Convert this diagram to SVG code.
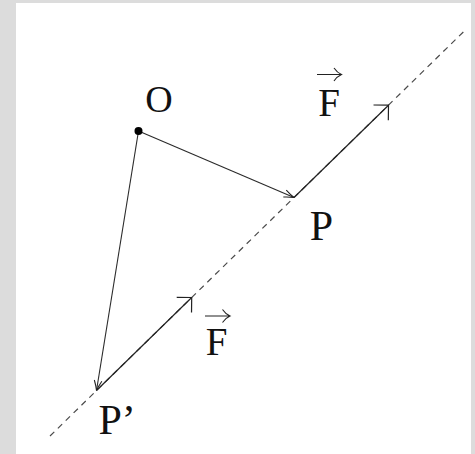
<svg xmlns="http://www.w3.org/2000/svg" width="475" height="454" viewBox="0 0 475 454">
<style>
.lbl{font-family:"Liberation Serif","Times New Roman",serif;font-size:38px;fill:#111}
.big{font-size:42px}
.mid{font-size:39px}
.ln{stroke:#2a2a2a;stroke-width:1.1;fill:none}
.dash{stroke:#4a4a4a;stroke-width:1.2;stroke-dasharray:6 5;fill:none}
.vec{stroke:#222;stroke-width:1.2;fill:none}
</style>
<defs>
<marker id="small" markerUnits="userSpaceOnUse" orient="auto" refX="0" refY="0" markerWidth="20" markerHeight="20" overflow="visible">
<path d="M-10,-3.8 Q-4,-1 0,0 Q-4,1 -10,3.8" fill="none" stroke="#222" stroke-width="1.1"/>
</marker>
<marker id="big" markerUnits="userSpaceOnUse" orient="auto" refX="0" refY="0" markerWidth="30" markerHeight="30" overflow="visible">
<path d="M-10.6,-10.6 L0,0 L-10.6,10.6" fill="none" stroke="#222" stroke-width="1.2"/>
</marker>
</defs>
<rect x="0" y="0" width="475" height="454" fill="#dcdcdc"/>
<rect x="16" y="3" width="455" height="451" fill="#ffffff"/>
<g id="connectors">
<line id="line" class="dash" x1="50" y1="436" x2="466.7" y2="28.7"/>
<line id="OP" class="ln" x1="138.5" y1="131" x2="294" y2="197.5" marker-end="url(#small)"/>
<line id="OPp" class="ln" x1="138.5" y1="131" x2="96.5" y2="390.5" marker-end="url(#small)"/>
<line id="F1" class="vec" x1="294" y1="197.5" x2="388.5" y2="105.2" marker-end="url(#big)"/>
<line id="F2" class="vec" x1="96.5" y1="390.5" x2="191.7" y2="297.5" marker-end="url(#big)"/>
</g>
<g id="O">
<circle cx="138.5" cy="131" r="4" fill="#000"/>
<text class="lbl" x="159" y="111.5" text-anchor="middle">O</text>
</g>
<g id="P">
<text class="lbl big" x="321.5" y="240" text-anchor="middle">P</text>
</g>
<g id="Pp">
<text class="lbl big" x="98.5" y="434">P’</text>
</g>
<g id="F-top">
<text class="lbl mid" x="329" y="116" text-anchor="middle">F</text>
<path d="M317,74.5 H341.5 M334,68 Q337,72.5 341.5,74.5 Q337,76.5 334,81" fill="none" stroke="#222" stroke-width="1.1"/>
</g>
<g id="F-bottom">
<text class="lbl mid" x="216.5" y="355" text-anchor="middle">F</text>
<path d="M205,316 H230 M222.5,309.5 Q225.5,314 230,316 Q225.5,318 222.5,322.5" fill="none" stroke="#222" stroke-width="1.1"/>
</g>
</svg>
